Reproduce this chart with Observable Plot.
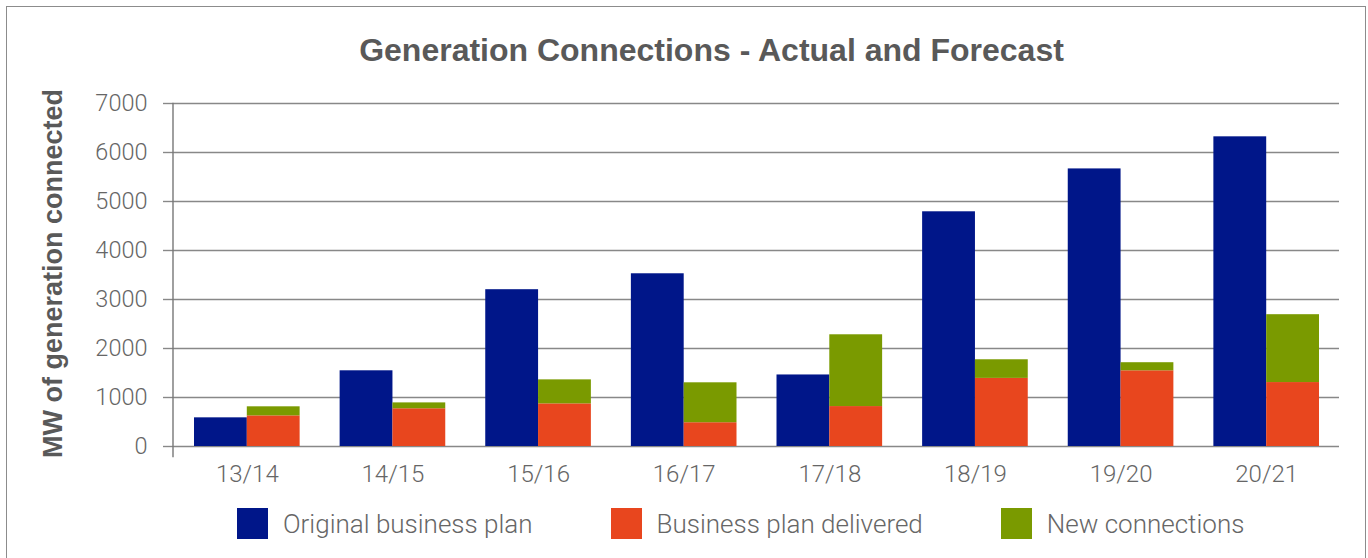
<!DOCTYPE html>
<html>
<head>
<meta charset="utf-8">
<script src="https://cdn.jsdelivr.net/npm/d3@7"></script>
<script src="https://cdn.jsdelivr.net/npm/@observablehq/plot@0.6"></script>
<style>
  html, body { margin: 0; padding: 0; background: #fff; }
  #wrap { position: relative; width: 1368px; height: 558px; overflow: hidden; background: #fff; }
  #border { position: absolute; left: 6px; top: 6px; width: 1360px; height: 600px; border: 1.5px solid #8c8c8c; box-sizing: border-box; }
  #title { position: absolute; left: 0; width: 1423px; top: 32px; text-align: center;
           font-family: "Liberation Sans", Arial, sans-serif; font-weight: bold; font-size: 32px; color: #595959; line-height: 36px; }
  #ylabel { position: absolute; left: -147px; top: 260px; width: 400px; height: 27px; line-height: 27px; text-align: center;
            transform: rotate(-90deg); transform-origin: 50% 50%;
            font-family: "Liberation Sans", Arial, sans-serif; font-weight: bold; font-size: 27px; color: #595959; white-space: nowrap; }
  #chart { position: absolute; left: 0; top: 0; }
  #legend { position: absolute; left: 237px; top: 508px; display: flex; align-items: center;
            font-family: Roboto, sans-serif; font-weight: 300; font-size: 26px; color: #666; }
  .item { display: flex; align-items: center; margin-right: 78px; }
  .sw { width: 31px; height: 31px; margin-right: 15px; }
</style>
</head>
<body>
<div id="wrap">
  <div id="border"></div>
  <div id="chart"></div>
  <div id="title"></div>
  <div id="ylabel"></div>
  <div id="legend"></div>
</div>
<script>
const titleText = "Generation Connections - Actual and Forecast";
const yLabel = "MW of generation connected";
const categories = ["13/14", "14/15", "15/16", "16/17", "17/18", "18/19", "19/20", "20/21"];
const originalPlan = [585, 1545, 3200, 3525, 1460, 4790, 5665, 6320];
const planDelivered = [625, 770, 870, 485, 815, 1390, 1545, 1305];
const newConnections = [185, 120, 490, 815, 1465, 380, 165, 1385];
const yTicks = [0, 1000, 2000, 3000, 4000, 5000, 6000, 7000];
const seriesNames = ["Original business plan", "Business plan delivered", "New connections"];
const seriesColors = ["#001689", "#e8461e", "#7a9a00"];

const origRows = categories.map((c, i) => ({cat: c, series: seriesNames[0], value: originalPlan[i]}));
const stackRows = [];
categories.forEach((c, i) => {
  stackRows.push({cat: c, series: seriesNames[1], value: planDelivered[i]});
  stackRows.push({cat: c, series: seriesNames[2], value: newConnections[i]});
});

document.getElementById("title").textContent = titleText;
document.getElementById("ylabel").textContent = yLabel;

const chart = Plot.plot({
  width: 1368,
  height: 500,
  marginTop: 103,
  marginBottom: 54,
  marginLeft: 174,
  marginRight: 29,
  style: {fontFamily: "Roboto, sans-serif", fontWeight: 300, background: "transparent"},
  x: {type: "band", domain: categories, padding: 0, round: false, label: null},
  y: {domain: [0, 7000], label: null},
  color: {domain: seriesNames, range: seriesColors},
  marks: [
    Plot.gridY(yTicks, {stroke: "#888", strokeOpacity: 1, strokeWidth: 1.4}),
    Plot.axisY(yTicks, {tickSize: 11, tickPadding: 16, fontSize: 23.5, fill: "#666", stroke: "#888", strokeOpacity: 1, strokeWidth: 1.4,
      tickFormat: d => String(d), label: null}),
    Plot.axisX({tickSize: 0, tickPadding: 18, fontSize: 24, fill: "#666", label: null}),
    Plot.barY(origRows, {x: "cat", y: "value", fill: "series", insetLeft: 20, insetRight: 72.8}),
    Plot.barY(stackRows, {x: "cat", y: "value", fill: "series", order: seriesNames, insetLeft: 72.8, insetRight: 20}),
    Plot.frame({anchor: "left", stroke: "#777", strokeWidth: 1.4, dx: -1.5, insetBottom: -10})
  ]
});
document.getElementById("chart").appendChild(chart);

const legend = document.getElementById("legend");
seriesNames.forEach((name, i) => {
  const item = document.createElement("div");
  item.className = "item";
  const sw = document.createElement("div");
  sw.className = "sw";
  sw.style.background = seriesColors[i];
  const lab = document.createElement("span");
  lab.textContent = name;
  item.appendChild(sw);
  item.appendChild(lab);
  legend.appendChild(item);
});
</script>
</body>
</html>
